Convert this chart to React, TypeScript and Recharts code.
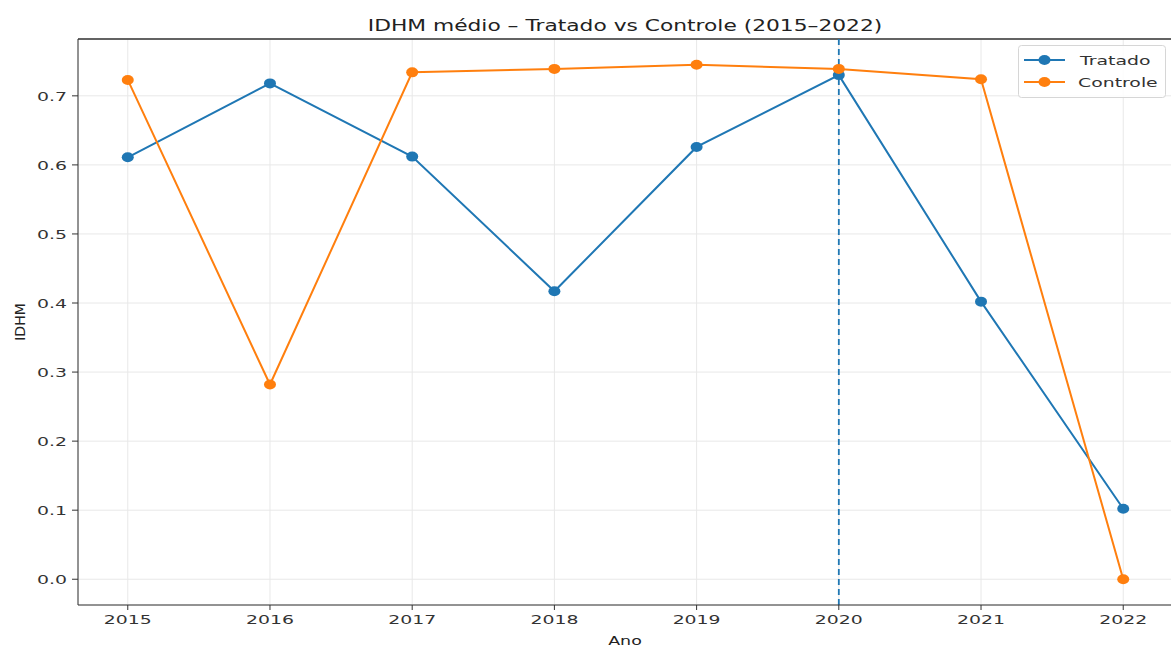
import React from "react";
import {
  LineChart,
  Line,
  CartesianGrid,
  XAxis,
  YAxis,
  ReferenceLine,
} from "recharts";

const years = [2015, 2016, 2017, 2018, 2019, 2020, 2021, 2022];
const tratado = [0.611, 0.718, 0.612, 0.417, 0.626, 0.73, 0.402, 0.102];
const controle = [0.723, 0.282, 0.734, 0.739, 0.745, 0.739, 0.724, 0.0];
const yTicks = [0, 0.1, 0.2, 0.3, 0.4, 0.5, 0.6, 0.7];
const xDomain = [2014.65, 2022.35];
const yDomain = [-0.0373, 0.7823];
const interventionYear = 2020;

const BLUE = "#1f77b4";
const ORANGE = "#ff7f0e";
const FONT = "'DejaVu Sans', sans-serif";
// the reference picture is stretched sideways, so text is widened to match
const SX = 1.45;

const data = years.map((ano, i) => ({
  ano,
  tratado: tratado[i],
  controle: controle[i],
}));

const legendItems = [
  { name: "Tratado", color: BLUE },
  { name: "Controle", color: ORANGE },
];

const XTick = ({ x, y, payload }: any) => (
  <g transform={`translate(${x},${y})`}>
    <text
      transform={`scale(${SX},1)`}
      textAnchor="middle"
      dy="0.78em"
      fontFamily={FONT}
      fontSize={13}
      fill="#333"
    >
      {payload.value}
    </text>
  </g>
);

const YTick = ({ x, y, payload }: any) => (
  <g transform={`translate(${x},${y})`}>
    <text
      transform={`scale(${SX},1)`}
      textAnchor="end"
      dy="0.36em"
      fontFamily={FONT}
      fontSize={13}
      fill="#333"
    >
      {Number(payload.value).toFixed(1)}
    </text>
  </g>
);

const makeDot = (color: string) => (props: any) => {
  const { cx, cy, index } = props;
  if (cx == null || cy == null) return <g key={index} />;
  return <ellipse key={index} cx={cx} cy={cy} rx={6} ry={5} fill={color} />;
};

const LegendBox = () => (
  <svg
    width={148}
    height={54}
    style={{ position: "absolute", left: 1018, top: 45, overflow: "visible" }}
  >
    <rect
      x={0.5}
      y={0.5}
      width={147}
      height={52}
      rx={3}
      fill="rgba(255,255,255,0.85)"
      stroke="#d6d6d6"
    />
    {legendItems.map((it, i) => {
      const cy = 15 + i * 22;
      return (
        <g key={it.name}>
          <line x1={6} x2={47} y1={cy} y2={cy} stroke={it.color} strokeWidth={2} />
          <ellipse cx={26.5} cy={cy} rx={6} ry={5} fill={it.color} />
          <g transform={`translate(${i === 0 ? 62 : 60},${cy})`}>
            <text
              transform={`scale(${SX},1)`}
              dy="0.36em"
              fontFamily={FONT}
              fontSize={13}
              fill="#333"
            >
              {it.name}
            </text>
          </g>
        </g>
      );
    })}
  </svg>
);

const labelStyle: React.CSSProperties = {
  position: "absolute",
  fontFamily: FONT,
  color: "#222",
  whiteSpace: "nowrap",
};

export default function App() {
  return (
    <div style={{ position: "relative", width: 1171, height: 648, background: "#fff", overflow: "hidden" }}>
      <style>{`body{margin:0}`}</style>
      <div
        style={{
          ...labelStyle,
          top: 17,
          left: 625,
          fontSize: 15,
          transform: `translateX(-50%) scaleX(${SX})`,
        }}
      >
        IDHM médio – Tratado vs Controle (2015–2022)
      </div>
      <div
        style={{
          ...labelStyle,
          left: 20,
          top: 322,
          fontSize: 14,
          transform: "translate(-50%, -50%) rotate(-90deg)",
        }}
      >
        IDHM
      </div>
      <div
        style={{
          ...labelStyle,
          top: 634,
          left: 625,
          fontSize: 12,
          transform: `translateX(-50%) scaleX(${SX})`,
        }}
      >
        Ano
      </div>
      <LineChart
        width={1171}
        height={648}
        data={data}
        margin={{ top: 39, right: -2, left: 28, bottom: 13 }}
      >
        <CartesianGrid stroke="#e8e8e8" strokeWidth={1} />
        <XAxis
          dataKey="ano"
          type="number"
          domain={xDomain}
          ticks={years}
          allowDataOverflow
          height={30}
          tickSize={5}
          tickMargin={4}
          tick={<XTick />}
          stroke="#333"
        />
        <YAxis
          type="number"
          domain={yDomain}
          ticks={yTicks}
          allowDataOverflow
          width={50}
          tickSize={6}
          tickMargin={5}
          tick={<YTick />}
          stroke="#333"
        />
        <ReferenceLine
          y={yDomain[1]}
          stroke="#333"
          strokeWidth={1.3}
          ifOverflow="visible"
        />
        <ReferenceLine
          x={interventionYear}
          stroke={BLUE}
          strokeWidth={1.8}
          strokeDasharray="6 4"
        />
        <Line
          dataKey="tratado"
          name="Tratado"
          stroke={BLUE}
          strokeWidth={2}
          dot={makeDot(BLUE)}
          isAnimationActive={false}
        />
        <Line
          dataKey="controle"
          name="Controle"
          stroke={ORANGE}
          strokeWidth={2}
          dot={makeDot(ORANGE)}
          isAnimationActive={false}
        />
      </LineChart>
      <LegendBox />
    </div>
  );
}
